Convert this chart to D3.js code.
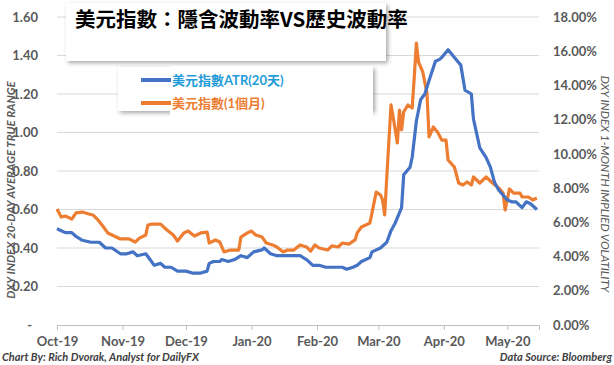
<!DOCTYPE html>
<html>
<head>
<meta charset="utf-8">
<script src="https://cdn.jsdelivr.net/npm/d3@7"></script>
<style>
  body { margin: 0; background: #fff; }
  svg { display: block; }
  .tick-label { font-family: Lato, "Open Sans", sans-serif; font-weight: 700; font-size: 13px; fill: #595959; }
</style>
</head>
<body>
<svg width="614" height="365"></svg>
<script>
// chart data
const atrDates = ["2019-10-01","2019-10-03","2019-10-05","2019-10-08","2019-10-10","2019-10-13","2019-10-17","2019-10-19","2019-10-21","2019-10-24","2019-10-27","2019-10-31",
  "2019-11-03","2019-11-06","2019-11-08","2019-11-12","2019-11-14","2019-11-16","2019-11-19","2019-11-21","2019-11-24","2019-11-27",
  "2019-12-01","2019-12-04","2019-12-06","2019-12-08","2019-12-11","2019-12-12","2019-12-14","2019-12-17","2019-12-18","2019-12-21","2019-12-24","2019-12-27","2019-12-30",
  "2020-01-02","2020-01-06","2020-01-07","2020-01-10","2020-01-13","2020-01-18","2020-01-20","2020-01-24","2020-01-27","2020-01-30",
  "2020-02-02","2020-02-05","2020-02-10","2020-02-13","2020-02-15","2020-02-18","2020-02-20","2020-02-22","2020-02-26","2020-02-27",
  "2020-03-02","2020-03-05","2020-03-07","2020-03-09","2020-03-12","2020-03-13","2020-03-16","2020-03-17","2020-03-19","2020-03-21","2020-03-23","2020-03-25","2020-03-28","2020-03-30","2020-03-31",
  "2020-04-03","2020-04-06","2020-04-09","2020-04-11","2020-04-14","2020-04-15","2020-04-18","2020-04-21","2020-04-23","2020-04-25","2020-04-27",
  "2020-05-01","2020-05-03","2020-05-05","2020-05-08","2020-05-10","2020-05-12","2020-05-15"];
const atrValues = [0.50,0.49,0.48,0.48,0.46,0.44,0.43,0.43,0.43,0.40,0.40,0.37,
  0.37,0.38,0.36,0.37,0.34,0.31,0.32,0.30,0.30,0.28,
  0.28,0.27,0.27,0.27,0.28,0.32,0.33,0.33,0.34,0.33,0.34,0.36,0.35,
  0.38,0.39,0.40,0.37,0.36,0.36,0.36,0.36,0.34,0.31,
  0.31,0.30,0.30,0.30,0.29,0.30,0.31,0.33,0.35,0.38,
  0.40,0.43,0.49,0.53,0.61,0.78,0.82,0.87,1.06,1.17,1.20,1.27,1.37,1.38,1.39,
  1.43,1.39,1.35,1.22,1.20,1.07,0.92,0.87,0.82,0.74,0.70,
  0.65,0.64,0.64,0.61,0.64,0.63,0.60];

const volDates = ["2019-10-01","2019-10-03","2019-10-05","2019-10-08","2019-10-10","2019-10-13","2019-10-16","2019-10-18","2019-10-20","2019-10-23","2019-10-25","2019-10-28","2019-10-31",
  "2019-11-04","2019-11-07","2019-11-09","2019-11-12","2019-11-13","2019-11-15","2019-11-19","2019-11-22","2019-11-25","2019-11-27","2019-11-30",
  "2019-12-02","2019-12-05","2019-12-08","2019-12-11","2019-12-12","2019-12-15","2019-12-17","2019-12-19","2019-12-22","2019-12-26","2019-12-27","2019-12-30",
  "2020-01-01","2020-01-03","2020-01-06","2020-01-08","2020-01-11","2020-01-13","2020-01-16","2020-01-18","2020-01-21","2020-01-24","2020-01-27","2020-01-29","2020-01-31",
  "2020-02-02","2020-02-06","2020-02-08","2020-02-11","2020-02-13","2020-02-16","2020-02-19","2020-02-20","2020-02-22","2020-02-24","2020-02-26","2020-02-27","2020-02-29",
  "2020-03-02","2020-03-03","2020-03-04","2020-03-05","2020-03-07","2020-03-08","2020-03-10","2020-03-11","2020-03-12","2020-03-13","2020-03-15","2020-03-17","2020-03-18","2020-03-19","2020-03-20","2020-03-22","2020-03-24","2020-03-25","2020-03-27","2020-03-29","2020-03-31",
  "2020-04-02","2020-04-03","2020-04-06","2020-04-08","2020-04-10","2020-04-12","2020-04-14","2020-04-15","2020-04-18","2020-04-21","2020-04-24","2020-04-27","2020-04-29","2020-04-30",
  "2020-05-02","2020-05-04","2020-05-07","2020-05-08","2020-05-11","2020-05-13","2020-05-15"];
const volValues = [6.78,6.31,6.37,6.19,6.55,6.60,6.49,6.43,6.19,5.73,5.38,5.20,5.03,
  5.03,4.85,5.08,5.26,5.84,5.90,5.90,5.55,5.26,4.91,5.38,
  5.49,5.20,5.38,5.43,4.79,4.97,4.85,4.27,4.38,4.38,5.14,5.38,
  5.49,5.26,5.14,4.79,4.68,4.56,4.27,4.38,4.38,4.68,4.56,4.32,4.68,
  4.50,4.38,4.62,4.56,4.79,4.73,4.97,5.38,5.73,5.84,5.96,6.55,7.77,
  7.60,7.31,6.43,8.65,12.86,12.16,10.64,12.56,11.40,12.45,12.86,12.68,14.49,16.48,15.37,14.79,13.56,10.99,11.57,11.28,10.81,
  10.81,9.64,9.23,8.30,8.18,8.36,8.18,8.65,8.30,8.65,8.30,8.01,7.71,6.72,
  7.95,7.71,7.71,7.48,7.48,7.31,7.42];

const titleText = "美元指數：隱含波動率VS歷史波動率";
const legendLabels = ["美元指數ATR(20天)", "美元指數(1個月)"];
const leftTitle = "DXY INDEX 20-DAY AVERAGE TRUE RANGE";
const rightTitle = "DXY INDEX 1-MONTH IMPLIED VOLATILITY";
const footLeft = "Chart By: Rich Dvorak, Analyst for DailyFX";
const footRight = "Data Source: Bloomberg";

// define constants
const svg = d3.select("svg");
const BLUE = "#4472c4";
const ORANGE = "#ed7d31";
const parse = d3.timeParse("%Y-%m-%d");

const x = d3.scaleTime()
  .domain([parse("2019-10-01"), parse("2020-05-16")])
  .range([57, 539]);
const yLeft = d3.scaleLinear().domain([0, 1.6]).range([325, 17]);
const yRight = d3.scaleLinear().domain([0, 18]).range([325, 17]);

svg.append("rect").attr("width", 614).attr("height", 365).attr("fill", "#fff");

const defs = svg.append("defs");
const shadow = defs.append("filter").attr("id", "shadow")
  .attr("x", "-10%").attr("y", "-10%").attr("width", "130%").attr("height", "140%");
shadow.append("feDropShadow")
  .attr("dx", 2).attr("dy", 2).attr("stdDeviation", 2)
  .attr("flood-color", "#000").attr("flood-opacity", 0.35);

// gridlines
svg.append("g")
  .selectAll("line")
  .data(yLeft.ticks(8).filter(d => d > 0))
  .enter().append("line")
    .attr("x1", x.range()[0]).attr("x2", x.range()[1])
    .attr("y1", d => yLeft(d)).attr("y2", d => yLeft(d))
    .attr("stroke", "#d9d9d9").attr("stroke-width", 1);

// bottom axis
const xAxis = svg.append("g")
  .attr("transform", `translate(0,${yLeft(0)})`)
  .call(d3.axisBottom(x)
    .tickValues(d3.timeMonth.range(parse("2019-10-01"), parse("2020-05-02")))
    .tickFormat(d3.timeFormat("%b-%y"))
    .tickSize(5)
    .tickPadding(7));
xAxis.select(".domain").attr("stroke", "#bfbfbf");
xAxis.selectAll(".tick line").attr("stroke", "#bfbfbf");
xAxis.selectAll(".tick text").attr("class", "tick-label").attr("fill", null);

// left axis
const leftAxis = svg.append("g")
  .attr("transform", "translate(38,0)")
  .call(d3.axisLeft(yLeft).ticks(8)
    .tickFormat(d => d === 0 ? "-" : d3.format(".2f")(d))
    .tickSize(0).tickPadding(0));
leftAxis.select(".domain").remove();
leftAxis.selectAll(".tick text").attr("class", "tick-label").attr("fill", null);
leftAxis.selectAll(".tick").filter(d => d === 0).select("text").attr("dx", -6);

// right axis
const rightAxis = svg.append("g")
  .attr("transform", "translate(553,0)")
  .call(d3.axisRight(yRight).ticks(9)
    .tickFormat(d => d3.format(".2f")(d) + "%")
    .tickSize(0).tickPadding(0));
rightAxis.select(".domain").remove();
rightAxis.selectAll(".tick text").attr("class", "tick-label").attr("fill", null);

// axis titles
svg.append("text")
  .attr("transform", "translate(15,190) rotate(-90)")
  .attr("text-anchor", "middle")
  .style("font-family", "Lato, sans-serif").style("font-size", "11.5px")
  .style("font-style", "italic").style("font-weight", 700)
  .attr("fill", "#595959")
  .text(leftTitle);

svg.append("text")
  .attr("transform", "translate(601,184) rotate(90)")
  .attr("text-anchor", "middle")
  .style("font-family", "Lato, sans-serif").style("font-size", "11.5px")
  .style("font-style", "italic")
  .attr("fill", "#595959")
  .text(rightTitle);

// lines
const lineAtr = d3.line()
  .x((d, i) => x(parse(atrDates[i])))
  .y(d => yLeft(d));
const lineVol = d3.line()
  .x((d, i) => x(parse(volDates[i])))
  .y(d => yRight(d));

svg.append("path")
  .datum(volValues)
  .attr("d", lineVol)
  .attr("fill", "none").attr("stroke", ORANGE)
  .attr("stroke-width", 3.2).attr("stroke-linejoin", "round");

svg.append("path")
  .datum(atrValues)
  .attr("d", lineAtr)
  .attr("fill", "none").attr("stroke", BLUE)
  .attr("stroke-width", 3.2).attr("stroke-linejoin", "round");

// title box
svg.append("rect")
  .attr("x", 66).attr("y", 3).attr("width", 320).attr("height", 58)
  .attr("fill", "#fff").attr("filter", "url(#shadow)");
svg.append("text")
  .attr("x", 75).attr("y", 27)
  .style("font-family", "'Noto Sans CJK TC', sans-serif")
  .style("font-size", "20.5px").style("font-weight", 700)
  .attr("fill", "#000")
  .text(titleText);

// legend
svg.append("rect")
  .attr("x", 118).attr("y", 67).attr("width", 255).attr("height", 44)
  .attr("fill", "#fff").attr("filter", "url(#shadow)");
svg.append("rect")
  .attr("x", 170).attr("y", 66).attr("width", 203).attr("height", 54)
  .attr("fill", "#fff");

const legend = svg.append("g")
  .selectAll("g")
  .data(legendLabels)
  .enter().append("g")
    .attr("transform", (d, i) => `translate(141,${80 + i * 23})`);

legend.append("line")
  .attr("x1", 0).attr("x2", 30)
  .attr("stroke", (d, i) => i === 0 ? BLUE : ORANGE)
  .attr("stroke-width", 4);

legend.append("text")
  .attr("x", 31).attr("y", 5)
  .style("font-family", "Lato, 'Noto Sans CJK TC', sans-serif")
  .style("font-size", "13px").style("font-weight", 700)
  .attr("fill", (d, i) => i === 0 ? "#1f9bd7" : ORANGE)
  .text(d => d);

// footer
svg.append("text")
  .attr("x", 2).attr("y", 361)
  .style("font-family", "Lato, sans-serif").style("font-size", "11px")
  .style("font-style", "italic").style("font-weight", 700)
  .attr("fill", "#404040")
  .text(footLeft);
svg.append("text")
  .attr("x", 612).attr("y", 361)
  .attr("text-anchor", "end")
  .style("font-family", "Lato, sans-serif").style("font-size", "11px")
  .style("font-style", "italic").style("font-weight", 700)
  .attr("fill", "#404040")
  .text(footRight);
</script>
</body>
</html>
